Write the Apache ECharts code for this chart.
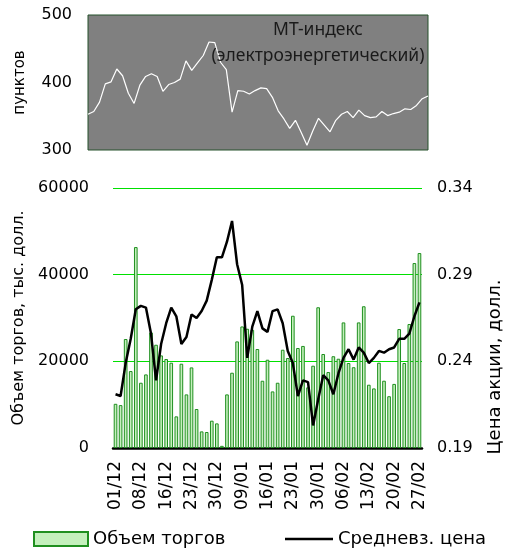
<!DOCTYPE html>
<html>
<head>
<meta charset="utf-8">
<script src="https://cdn.jsdelivr.net/npm/echarts@6/dist/echarts.min.js"></script>
<style>
  html, body { margin: 0; padding: 0; background: #fff; }
  #chart { width: 512px; height: 548px; }
</style>
</head>
<body>
<div id="chart"></div>
<script>
// МТ-индекс (верхняя панель)
var mtIndex = [353, 357, 371, 398, 401, 420, 410, 384, 369, 396,
  409, 413, 409, 387, 397, 400, 405, 432, 418, 429,
  440, 460, 459, 430, 419, 356, 388, 387, 383, 388,
  392, 391, 378, 358, 346, 332, 344, 326, 307, 328,
  347, 337, 327, 344, 353, 357, 348, 359, 351, 348,
  349, 357, 351, 354, 356, 361, 360, 366, 376, 380];

// даты торгов
var dates = ['01/12', '02/12', '03/12', '04/12', '05/12', '08/12', '09/12', '10/12', '11/12', '15/12',
  '16/12', '17/12', '18/12', '19/12', '22/12', '23/12', '24/12', '25/12', '26/12', '29/12',
  '30/12', '31/12', '05/01', '06/01', '08/01', '09/01', '12/01', '13/01', '14/01', '15/01',
  '16/01', '19/01', '20/01', '21/01', '22/01', '23/01', '26/01', '27/01', '28/01', '29/01',
  '30/01', '02/02', '03/02', '04/02', '05/02', '06/02', '09/02', '10/02', '11/02', '12/02',
  '13/02', '16/02', '17/02', '18/02', '19/02', '20/02', '21/02', '24/02', '25/02', '26/02',
  '27/02'];

// объем торгов, тыс. долл.
var volume = [10200, 9900, 25150, 17760, 46370, 15060, 16980, 26670, 23830, 21370,
  20530, 19680, 7300, 19450, 12370, 18600, 9000, 3830, 3690, 6300,
  5680, 500, 12370, 17370, 24600, 28050, 27520, 27290, 22840, 15520,
  20370, 13060, 15060, 22680, 20760, 30520, 23070, 23550, 14000, 18990,
  32480, 21690, 17530, 21180, 20600, 28980, 19610, 18640, 28980, 32710,
  14600, 13750, 19680, 15530, 11950, 14790, 27450, 19610, 28610, 42680,
  44990];

// средневзвешенная цена, долл.
var price = [0.221, 0.220, 0.239, 0.253, 0.270, 0.272, 0.271, 0.256, 0.229, 0.250,
  0.262, 0.271, 0.266, 0.250, 0.254, 0.267, 0.265, 0.269, 0.275, 0.287,
  0.300, 0.300, 0.309, 0.321, 0.296, 0.284, 0.242, 0.260, 0.269, 0.259,
  0.257, 0.269, 0.270, 0.262, 0.246, 0.239, 0.220, 0.229, 0.228, 0.203,
  0.218, 0.232, 0.229, 0.221, 0.233, 0.242, 0.247, 0.241, 0.248, 0.245,
  0.239, 0.242, 0.246, 0.245, 0.247, 0.248, 0.253, 0.253, 0.256, 0.266,
  0.274];

var leftTicks = [0, 60000, 20000];
var rightTicks = [0.19, 0.34, 0.05];
var mtTicks = [300, 500, 100];

var font = 'DejaVu Sans';
var chart = echarts.init(document.getElementById('chart'));

var option = {
  animation: false,
  backgroundColor: '#fff',
  title: {
    text: 'МТ-индекс\n(электроэнергетический)',
    left: 313,
    top: 12,
    textAlign: 'center',
    textStyle: { fontFamily: 'Noto Sans', fontSize: 17.5, fontWeight: 'normal', color: '#1a1a1a', lineHeight: 26 }
  },
  legend: [
    {
      data: [{ name: 'Объем торгов', icon: 'rect' }],
      left: 33, top: 530, padding: 0,
      itemWidth: 54, itemHeight: 14, itemGap: 4,
      textStyle: { fontFamily: font, fontSize: 18, color: '#000' }
    },
    {
      data: [{ name: 'Средневз. цена', icon: 'rect', itemStyle: { color: '#000' } }],
      left: 285, top: 530, padding: 0,
      itemWidth: 48, itemHeight: 2.5,
      textStyle: { fontFamily: font, fontSize: 18, color: '#000' }
    }
  ],
  grid: [
    { left: 88, top: 15, width: 340, height: 135, show: true, backgroundColor: '#808080', borderColor: '#24502a', borderWidth: 1 },
    { left: 113, top: 188, width: 315, height: 260 }
  ],
  xAxis: [
    { gridIndex: 0, type: 'category', boundaryGap: false, show: false },
    {
      gridIndex: 1, type: 'category', data: dates,
      axisLine: { lineStyle: { color: '#000', width: 2.5 } },
      axisTick: { show: false },
      axisLabel: { interval: 4, rotate: 90, margin: 13, fontFamily: font, fontSize: 17, color: '#000' }
    }
  ],
  yAxis: [
    {
      gridIndex: 0, type: 'value', min: mtTicks[0], max: mtTicks[1], interval: mtTicks[2],
      name: 'пунктов', nameLocation: 'middle', nameGap: 60,
      nameTextStyle: { fontFamily: font, fontSize: 15, color: '#000' },
      axisLine: { show: false }, axisTick: { show: false }, splitLine: { show: false },
      axisLabel: { margin: 16, fontFamily: font, fontSize: 16, color: '#000' }
    },
    {
      gridIndex: 1, type: 'value', min: leftTicks[0], max: leftTicks[1], interval: leftTicks[2],
      name: 'Объем торгов, тыс. долл.', nameLocation: 'middle', nameGap: 86,
      nameTextStyle: { fontFamily: font, fontSize: 16, color: '#000' },
      axisLine: { show: false }, axisTick: { show: false },
      splitLine: { lineStyle: { color: '#00e000', width: 1 } },
      axisLabel: {
        margin: 24, fontFamily: font, fontSize: 16, color: '#000',
        formatter: function (v) { return String(v); }
      }
    },
    {
      gridIndex: 1, type: 'value', position: 'right', min: rightTicks[0], max: rightTicks[1], interval: rightTicks[2],
      name: 'Цена акции, долл.', nameLocation: 'middle', nameGap: 64,
      nameTextStyle: { fontFamily: font, fontSize: 18, color: '#000', padding: [0, 98, 0, 0] },
      axisLine: { show: false }, axisTick: { show: false }, splitLine: { show: false },
      axisLabel: {
        margin: 15, fontFamily: font, fontSize: 16, color: '#000',
        formatter: function (v) { return v.toFixed(2); }
      }
    }
  ],
  series: [
    {
      name: 'МТ-индекс', type: 'line', xAxisIndex: 0, yAxisIndex: 0,
      data: mtIndex, symbol: 'none',
      lineStyle: { color: '#fff', width: 1.2 }
    },
    {
      name: 'Объем торгов', type: 'bar', xAxisIndex: 1, yAxisIndex: 1,
      data: volume, barCategoryGap: '28%',
      itemStyle: { color: '#c4f0bc', borderColor: '#1f8f1f', borderWidth: 1 }
    },
    {
      name: 'Средневз. цена', type: 'line', xAxisIndex: 1, yAxisIndex: 2,
      data: price, symbol: 'none',
      lineStyle: { color: '#000', width: 2.5 }
    }
  ]
};
chart.setOption(option);
</script>
</body>
</html>
